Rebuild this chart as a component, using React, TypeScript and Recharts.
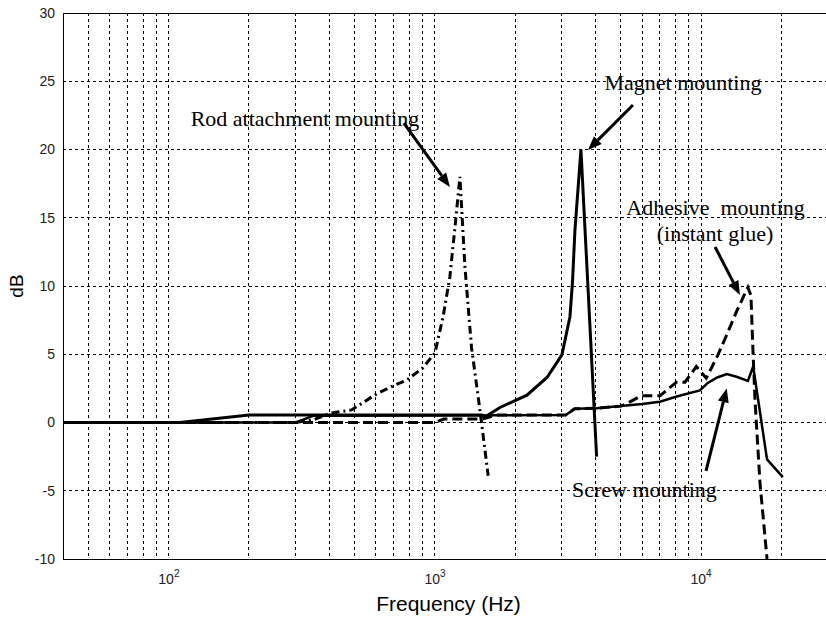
import React from 'react';
import {
  LineChart,
  Line,
  XAxis,
  YAxis,
  CartesianGrid,
  ReferenceLine,
  ReferenceDot
} from 'recharts';

// frequency (Hz) / response (dB), one pair of arrays per mounting
const rodFreq = [40, 300, 350, 403, 486, 604, 717, 782, 900, 1000, 1074, 1138, 1189, 1241, 1296, 1372, 1476, 1585];
const rodDb = [0, 0, 0.2, 0.67, 0.92, 2.1, 2.8, 3.1, 4.0, 5.1, 7.8, 10.7, 14.3, 18.0, 11.4, 5.5, 0.9, -3.9];

const magnetFreq = [40, 110, 200, 1500, 1541, 1755, 2216, 2636, 3000, 3216, 3290, 3358, 3537, 4050];
const magnetDb = [0, 0, 0.55, 0.55, 0.4, 1.1, 2.0, 3.3, 4.95, 7.75, 10.4, 14.1, 20.0, -2.5];

const adhesiveFreq = [40, 1000, 1080, 1500, 1700, 3100, 3350, 4050, 5000, 5265, 5970, 7010, 8080, 8700, 9600, 10460, 11480, 12540, 13640, 15000, 15400, 15670, 15950, 16650, 17700];
const adhesiveDb = [0, 0, 0.25, 0.25, 0.55, 0.55, 1.0, 1.05, 1.2, 1.4, 1.96, 1.96, 2.95, 2.95, 4.1, 3.25, 4.8, 6.5, 8.2, 9.9, 9.3, 5.3, 1.65, -4.4, -10];

const screwFreq = [40, 300, 350, 3100, 3350, 4050, 5000, 6000, 7000, 8100, 9900, 10600, 11500, 12500, 13600, 15000, 15700, 17700, 20300];
const screwDb = [0, 0, 0.5, 0.55, 1.0, 1.05, 1.2, 1.35, 1.52, 1.9, 2.35, 2.9, 3.3, 3.55, 3.35, 3.05, 4.1, -2.7, -4.0];

const xTicks = [
  50, 60, 70, 80, 90,
  100, 200, 300, 400, 500, 600, 700, 800, 900,
  1000, 2000, 3000, 4000, 5000, 6000, 7000, 8000, 9000,
  10000, 20000
];
const yTicks = [-10, -5, 0, 5, 10, 15, 20, 25, 30];
const decadeExp: Record<number, string> = { 100: '2', 1000: '3', 10000: '4' };

// annotations, in data units (Hz, dB)
const notes = [
  { text: 'Rod attachment mounting', f: 324.5, db: 21.7 },
  { text: 'Magnet mounting', f: 8552, db: 24.36 },
  { text: 'Adhesive  mounting', f: 11336, db: 15.2 },
  { text: '(instant glue)', f: 11290, db: 13.3 },
  { text: 'Screw mounting', f: 6128, db: -5.46 }
];
const arrows = [
  { f1: 764, d1: 21.94, f2: 1138, d2: 17.25 },
  { f1: 5548, d1: 23.26, f2: 3757, d2: 19.96 },
  { f1: 11290, d1: 12.86, f2: 14000, d2: 9.34 },
  { f1: 10440, d1: -3.55, f2: 12490, d2: 2.5 }
];

const toPoints = (f: number[], v: number[]) => f.map((x, i) => ({ f: x, v: v[i] }));

const SANS = '"Liberation Sans", Arial, Helvetica, sans-serif';
const SERIF = '"Liberation Serif", "Times New Roman", serif';

const XTick = (props: any) => {
  const { x, y, payload } = props;
  const exp = decadeExp[payload.value];
  if (!exp) return <g />;
  return (
    <text x={x} y={y + 17} textAnchor="middle" fontSize={14} fill="#222" fontFamily={SANS}>
      <tspan>10</tspan>
      <tspan dy={-7} fontSize={10}>{exp}</tspan>
    </text>
  );
};

const ArrowShape = (p: any) => {
  const { x1, y1, x2, y2 } = p;
  const ang = Math.atan2(y2 - y1, x2 - x1);
  const len = 14;
  const half = 5.5;
  const bx = x2 - len * Math.cos(ang);
  const by = y2 - len * Math.sin(ang);
  const px = -Math.sin(ang) * half;
  const py = Math.cos(ang) * half;
  return (
    <g>
      <line x1={x1} y1={y1} x2={bx} y2={by} stroke="#000" strokeWidth={3} />
      <polygon points={`${x2},${y2} ${bx + px},${by + py} ${bx - px},${by - py}`} fill="#000" />
    </g>
  );
};

const App = () => {
  return (
    <div style={{ position: 'absolute', left: 0, top: 0, width: 826, height: 619, overflow: 'hidden', background: '#fff' }}>
      <LineChart width={840} height={619} margin={{ top: 13, right: 12, bottom: 13, left: 0 }}>
        <CartesianGrid stroke="#000" strokeDasharray="3 3" strokeWidth={1} shapeRendering="crispEdges" />
        <XAxis
          dataKey="f"
          type="number"
          scale="log"
          domain={[40, 30000]}
          allowDataOverflow
          ticks={xTicks}
          interval={0}
          tick={<XTick />}
          tickLine={false}
          height={47}
          axisLine={{ stroke: '#000', shapeRendering: 'crispEdges' }}
          label={(props: any) => {
            const vb = props.viewBox;
            return (
              <text x={vb.x + vb.width / 2 + 3} y={vb.y + 52} textAnchor="middle" fontSize={21} fill="#000" fontFamily={SANS}>
                Frequency (Hz)
              </text>
            );
          }}
        />
        <YAxis
          type="number"
          domain={[-10, 30]}
          ticks={yTicks}
          interval={0}
          allowDataOverflow
          width={63}
          tickLine={false}
          axisLine={{ stroke: '#000', shapeRendering: 'crispEdges' }}
          tick={{ fontSize: 14, fill: '#222', fontFamily: SANS }}
          label={(props: any) => {
            const vb = props.viewBox;
            const cx = 23;
            const cy = vb.y + vb.height / 2;
            return (
              <text x={cx} y={cy} textAnchor="middle" fontSize={19} fill="#000" fontFamily={SANS} transform={`rotate(-90, ${cx}, ${cy})`}>
                dB
              </text>
            );
          }}
        />
        <ReferenceLine y={30} stroke="#000" strokeWidth={1} shapeRendering="crispEdges" />
        <ReferenceLine x={30000} stroke="#000" strokeWidth={1} />

        <Line data={toPoints(adhesiveFreq, adhesiveDb)} dataKey="v" type="linear" stroke="#000" strokeWidth={3} strokeDasharray="10 5" dot={false} isAnimationActive={false} />
        <Line data={toPoints(rodFreq, rodDb)} dataKey="v" type="linear" stroke="#000" strokeWidth={3} strokeDasharray="8 4 2 4" dot={false} isAnimationActive={false} />
        <Line data={toPoints(screwFreq, screwDb)} dataKey="v" type="linear" stroke="#000" strokeWidth={2.5} dot={false} isAnimationActive={false} />
        <Line data={toPoints(magnetFreq, magnetDb)} dataKey="v" type="linear" stroke="#000" strokeWidth={3} dot={false} isAnimationActive={false} />

        {arrows.map((a, i) => (
          <ReferenceLine
            key={'a' + i}
            segment={[{ x: a.f1, y: a.d1 }, { x: a.f2, y: a.d2 }]}
            stroke="#000"
            shape={ArrowShape}
          />
        ))}
        {notes.map((n, i) => (
          <ReferenceDot
            key={'n' + i}
            x={n.f}
            y={n.db}
            r={0}
            shape={(p: any) => (
              <text x={p.cx} y={p.cy} textAnchor="middle" fontSize={22} fill="#000" fontFamily={SERIF} style={{ whiteSpace: 'pre' }}>
                {n.text}
              </text>
            )}
          />
        ))}
      </LineChart>
    </div>
  );
};

export default App;
